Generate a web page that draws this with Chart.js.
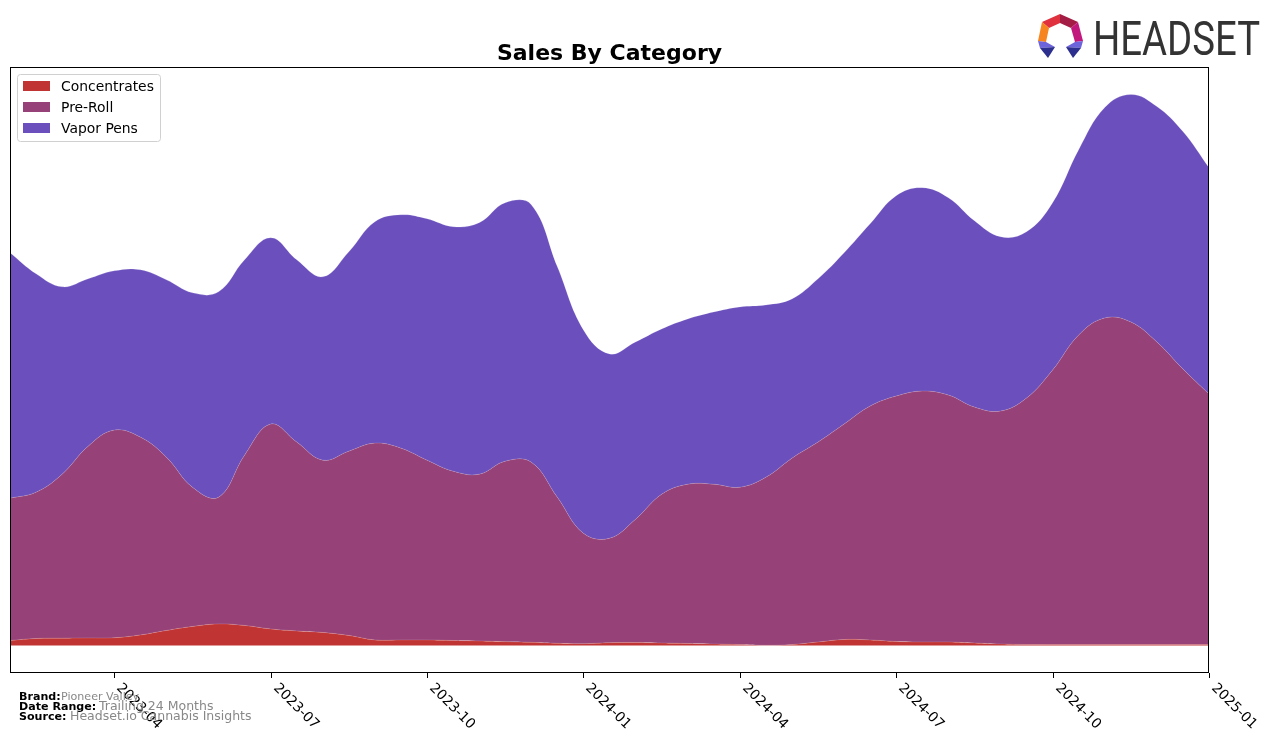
<!DOCTYPE html>
<html>
<head>
<meta charset="utf-8">
<title>Sales By Category</title>
<script src="https://cdn.jsdelivr.net/npm/chart.js"></script>
<style>
    body { margin: 0; background: #fff; }
    #wrapper { width: 1276px; height: 743px; }
</style>
</head>
<body>
<div id="wrapper"><canvas id="grafico" width="1276" height="743"></canvas></div>
<script>
"use strict";

// valori, ogni mezzo mese
const labels = ["2023-02-01", "2023-02-15", "2023-03-01", "2023-03-15", "2023-04-01", "2023-04-15",
    "2023-05-01", "2023-05-15", "2023-06-01", "2023-06-15", "2023-07-01", "2023-07-15",
    "2023-08-01", "2023-08-15", "2023-09-01", "2023-09-15", "2023-10-01", "2023-10-15",
    "2023-11-01", "2023-11-15", "2023-12-01", "2023-12-15", "2024-01-01", "2024-01-15",
    "2024-02-01", "2024-02-15", "2024-03-01", "2024-03-15", "2024-04-01", "2024-04-15",
    "2024-05-01", "2024-05-15", "2024-06-01", "2024-06-15", "2024-07-01", "2024-07-15",
    "2024-08-01", "2024-08-15", "2024-09-01", "2024-09-15", "2024-10-01", "2024-10-15",
    "2024-11-01", "2024-11-15", "2024-12-01", "2024-12-15", "2025-01-01"];

const concentrates = [5, 7, 7.3, 7.5, 7.7, 10.5, 15, 19, 21.5, 20, 16.5, 14.5, 13, 10, 5.5, 5.5,
    5.5, 5, 4.5, 3.8, 3.2, 2.2, 1.8, 2.8, 3, 2.5, 2, 1.5, 1, 0.2, 1, 3.5,
    6, 5.5, 4, 3.5, 3.5, 2.5, 1.5, 1, 1, 1, 1, 1, 1, 1, 1];

const preRoll = [142, 146, 163.7, 191.5, 207.3, 197.5, 173, 139, 126.5, 170, 204.5, 188.5, 172, 184, 196.5, 191.5,
    179.5, 169, 166.5, 180.2, 179.8, 145.8, 110.2, 104.2, 123, 148.5, 159, 159.5, 157, 167.8, 186, 199.5,
    215, 233.5, 245, 250.5, 246.5, 235.5, 232.5, 246, 274, 309, 326, 322, 302, 275, 250];

const vaporPens = [245, 218, 187, 167, 159, 167, 177, 194, 205, 195, 186, 182, 183, 199, 221, 233,
    241, 244, 251, 258, 257, 230, 203, 184, 177, 165, 165, 172, 180, 172, 159, 163,
    171, 182, 200, 203, 197, 186, 174, 166, 167, 185, 210, 227, 235, 237, 226];

const tickLabels = ["2023-04", "2023-07", "2023-10", "2024-01", "2024-04", "2024-07", "2024-10", "2025-01"];

const seriesNames = ["Concentrates", "Pre-Roll", "Vapor Pens"];
const seriesColors = ["#c13434", "#964177", "#6a4fbd"];

window.onload = function() {
    let canvas = document.getElementById("grafico");

    // margine del 5% come matplotlib
    let totals = labels.map((l, i) => concentrates[i] + preRoll[i] + vaporPens[i]);
    let maxTot = Math.max(...totals);

    let overlay = {
        id: "overlay",
        afterDraw: function(chart) {
            let ctx = chart.ctx;
            let a = chart.chartArea;
            let xs = chart.scales.x;
            ctx.save();

            // cornice
            ctx.strokeStyle = "#000";
            ctx.lineWidth = 1;
            ctx.strokeRect(Math.round(a.left) + 0.5, Math.round(a.top) + 0.5,
                Math.round(a.right - a.left) - 1, Math.round(a.bottom - a.top) - 1);

            // tick e etichette ruotate
            ctx.font = "13.9px 'DejaVu Sans'";
            ctx.fillStyle = "#000";
            for (const t of tickLabels) {
                let idx = labels.indexOf(t + "-01");
                let x = Math.round(xs.getPixelForValue(idx)) + 0.5;
                ctx.beginPath();
                ctx.moveTo(x, a.bottom);
                ctx.lineTo(x, a.bottom + 5);
                ctx.stroke();
                ctx.save();
                ctx.translate(x + 9, a.bottom + 8);
                ctx.rotate(Math.PI / 4);
                ctx.textAlign = "left";
                ctx.textBaseline = "top";
                ctx.fillText(t, 0, 0);
                ctx.restore();
            }

            // titolo
            ctx.font = "bold 22px 'DejaVu Sans'";
            ctx.textAlign = "center";
            ctx.textBaseline = "alphabetic";
            ctx.fillText("Sales By Category", (a.left + a.right) / 2, 60);

            // legenda
            ctx.beginPath();
            ctx.roundRect(17.5, 74.5, 143, 67, 3);
            ctx.fillStyle = "rgba(255,255,255,0.85)";
            ctx.fill();
            ctx.strokeStyle = "#d0d0d0";
            ctx.stroke();
            ctx.font = "13.9px 'DejaVu Sans'";
            ctx.textAlign = "left";
            ctx.textBaseline = "middle";
            chart.data.datasets.forEach(function(ds, i) {
                ctx.fillStyle = ds.backgroundColor;
                ctx.fillRect(23, 81 + 21 * i, 27, 10);
                ctx.fillStyle = "#000";
                ctx.fillText(ds.label, 61, 87 + 21 * i);
            });

            // note in basso
            ctx.textBaseline = "alphabetic";
            ctx.fillStyle = "#000";
            ctx.font = "bold 11.1px 'DejaVu Sans'";
            ctx.fillText("Brand:", 19, 700);
            ctx.fillText("Date Range:", 19, 710);
            ctx.fillText("Source:", 19, 720);
            ctx.fillStyle = "#888";
            ctx.font = "11.1px 'DejaVu Sans'";
            ctx.fillText("Pioneer Valley", 61, 700);
            ctx.font = "12.5px 'DejaVu Sans'";
            ctx.fillText("Trailing 24 Months", 99, 710);
            ctx.fillText("Headset.io Cannabis Insights", 70, 720);

            // logo
            let poly = function(col, pts) {
                ctx.fillStyle = col;
                ctx.beginPath();
                ctx.moveTo(pts[0][0], pts[0][1]);
                for (let p of pts.slice(1)) ctx.lineTo(p[0], p[1]);
                ctx.closePath();
                ctx.fill();
            };
            poly("#e0313e", [[1042, 22], [1060, 14], [1060, 23], [1049, 28]]);
            poly("#a31d45", [[1060, 14], [1078, 22], [1071, 28], [1060, 23]]);
            poly("#c2187e", [[1078, 22], [1083, 41], [1075, 42], [1071, 28]]);
            poly("#f6841f", [[1042, 22], [1049, 28], [1046, 42], [1038, 41]]);
            poly("#6d64dc", [[1038, 41], [1046, 42], [1055, 47], [1040, 48]]);
            poly("#2d2f8e", [[1040, 48], [1055, 47], [1048, 58]]);
            poly("#6d64dc", [[1066, 47], [1075, 42], [1083, 41], [1081, 48]]);
            poly("#2d2f8e", [[1066, 47], [1081, 48], [1073, 58]]);

            ctx.fillStyle = "#333";
            ctx.font = "49px Roboto";
            ctx.textAlign = "left";
            let w = ctx.measureText("HEADSET").width;
            ctx.save();
            ctx.translate(1093, 55);
            ctx.scale(167 / w, 1);
            ctx.fillText("HEADSET", 0, 0);
            ctx.restore();

            ctx.restore();
        }
    };

    let datasets = [concentrates, preRoll, vaporPens].map(function(values, i) {
        return {
            label: seriesNames[i],
            data: values,
            fill: i == 0 ? "origin" : "-1",
            backgroundColor: seriesColors[i],
            borderColor: "rgba(255,255,255,0.2)",
            borderWidth: 0.8,
            pointRadius: 0,
            tension: 0.4
        };
    });

    let chart = new Chart(canvas, {
        type: "line",
        data: {
            "labels": labels,
            "datasets": datasets
        },
        options: {
            responsive: false,
            animation: false,
            layout: { padding: { left: 10, top: 67, right: 67, bottom: 70 } },
            scales: {
                x: { display: false, offset: false },
                y: { display: false, stacked: true, min: -0.05 * maxTot, max: 1.05 * maxTot }
            },
            plugins: {
                legend: { display: false },
                title: { display: false },
                tooltip: { enabled: false }
            }
        },
        plugins: [overlay]
    });
};
</script>
</body>
</html>
